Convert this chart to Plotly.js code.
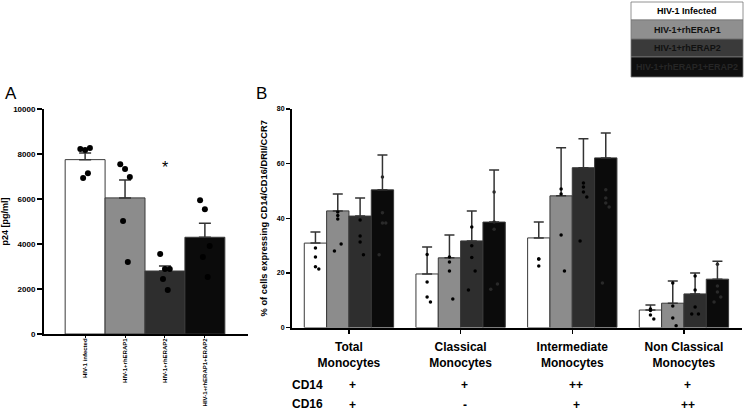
<!DOCTYPE html>
<html>
<head>
<meta charset="utf-8">
<script src="https://cdn.plot.ly/plotly-3.0.1.min.js"></script>
<style>
  html, body { margin: 0; padding: 0; background: #fff; }
  #chart { width: 744px; height: 412px; }
</style>
</head>
<body>
<div id="chart"></div>
<script>
// treatments (shared by both panels)
const treatments = ['HIV-1 Infected', 'HIV-1+rhERAP1', 'HIV-1+rhERAP2', 'HIV-1+rhERAP1+ERAP2'];
const treatmentTicks = ['HIV-1 infected', 'HIV-1+rhERAP1', 'HIV-1+rhERAP2', 'HIV-1+rhERAP1+ERAP2'];

// panel A : p24 [pg/ml]
const p24Mean = [7750, 6050, 2800, 4300];
const p24Sem = [290, 800, 220, 620];
const p24Points = [
    [8220, 8180, 8270, 6930, 7150],
    [7550, 7330, 6980, 5020, 3200],
    [3560, 2890, 2890, 2440, 1960],
    [5950, 5550, 3910, 3420, 2530]
];

// panel B : % of cells expressing CD14/CD16/DRII/CCR7
const subsets = ['Total<br>Monocytes', 'Classical<br>Monocytes', 'Intermediate<br>Monocytes', 'Non Classical<br>Monocytes'];
const cd14 = ['+', '+', '++', '+'];
const cd16 = ['+', '-', '+', '++'];
// one array per treatment, one value per subset
const pctMean = [
    [30.9, 19.6, 32.8, 6.4],
    [42.7, 25.5, 48.2, 8.9],
    [40.8, 31.7, 58.5, 12.3],
    [50.4, 38.6, 62.1, 17.7]
];
const pctErr = [
    [4.1, 9.9, 5.8, 1.8],
    [6.2, 8.4, 17.6, 8.1],
    [6.6, 11.0, 10.6, 7.7],
    [12.8, 19.1, 9.1, 6.6]
];
const pctPoints = [
    [[29.1, 25.8, 22.2, 21.4], [26.7, 16.7, 11.2, 9.3], [25.1, 25.1, 22.5], [6.8, 6.2, 4.6, 3.1]],
    [[42.3, 41.0, 39.7, 30.6, 28.0], [25.8, 24.0, 20.7, 10.4], [50.7, 48.9, 33.9, 20.7], [16.3, 7.9, 3.5, 0.6]],
    [[39.4, 33.5, 31.3, 26.6], [36.8, 29.9, 25.6, 20.7, 13.7], [52.9, 51.4, 49.6, 47.8, 31.7], [18.9, 13.7, 7.5, 4.9, 4.9]],
    [[55.1, 42.0, 38.3, 38.3, 26.6], [49.6, 38.6, 36.0, 15.9, 14.0], [50.4, 47.4, 45.6, 44.1, 16.3], [23.2, 15.2, 13.0, 11.2, 9.3]]
];

const barColors = ['#ffffff', '#8c8c8c', '#2e2e2e', '#0b0b0b'];
const boxColors = ['#ffffff', '#8f8f8f', '#3a3a3a', '#0e0e0e'];
const boxText = ['#000000', '#111111', '#111111', '#262626'];
const FONT = 'Liberation Sans, Arial, sans-serif';
const jitter = [-0.12, 0, 0.12, -0.05, 0.07];
const jitterB = [0, 0, 0, 0.03, -0.03];
const bw = 0.2;   // bar width in panel B (group units)

let data = [];

// ---- panel A bars + dots
data.push({
    type: 'bar', x: [0, 1, 2, 3], y: p24Mean, width: 1,
    xaxis: 'x', yaxis: 'y',
    marker: { color: barColors, line: { color: '#3a3a3a', width: 1 } },
    error_y: { type: 'data', symmetric: false, array: p24Sem, arrayminus: [0, 0, 0, 0],
        color: '#333', thickness: 1.5, width: 6 },
    hoverinfo: 'skip', showlegend: false
});
let ax = [], ay = [];
p24Points.forEach((pts, i) => pts.forEach((v, j) => { ax.push(i + jitter[j]); ay.push(v); }));
data.push({
    type: 'scatter', mode: 'markers', x: ax, y: ay, xaxis: 'x', yaxis: 'y',
    marker: { color: '#000', size: 6 }, hoverinfo: 'skip', showlegend: false
});

// ---- panel B bars + dots
treatments.forEach((name, k) => {
    const xs = subsets.map((s, g) => g + (k - 1.5) * bw);
    data.push({
        type: 'bar', name: name, x: xs, y: pctMean[k], width: bw,
        xaxis: 'x2', yaxis: 'y2',
        marker: { color: barColors[k], line: { color: '#3a3a3a', width: 1 } },
        error_y: { type: 'data', symmetric: false, array: pctErr[k], arrayminus: [0, 0, 0, 0],
            color: '#333', thickness: 1.5, width: 5 },
        hoverinfo: 'skip', showlegend: false
    });
    let bx = [], by = [];
    pctPoints[k].forEach((pts, g) => pts.forEach((v, j) => {
        bx.push(g + (k - 1.5) * bw + jitterB[j]); by.push(v);
    }));
    data.push({
        type: 'scatter', mode: 'markers', x: bx, y: by, xaxis: 'x2', yaxis: 'y2',
        marker: { color: k === 3 ? '#2a2a2a' : '#000', size: 3.5 },
        hoverinfo: 'skip', showlegend: false
    });
});

// ---- annotations and legend boxes
const note = (o) => Object.assign({ showarrow: false, xanchor: 'center', yanchor: 'middle' }, o);
let annotations = [
    note({ text: 'A', xref: 'paper', yref: 'paper', x: 3 / 744, y: 1 - 93 / 412, xanchor: 'left',
        font: { family: FONT, size: 17, color: '#000' } }),
    note({ text: 'B', xref: 'paper', yref: 'paper', x: 254 / 744, y: 1 - 93 / 412, xanchor: 'left',
        font: { family: FONT, size: 17, color: '#000' } }),
    note({ text: '*', xref: 'x', yref: 'y', x: 2, y: 7400,
        font: { family: FONT, size: 16, color: '#000' } }),
    note({ text: '*', xref: 'x2', yref: 'y2', x: 2 + 1.5 * bw, y: 80.5,
        font: { family: FONT, size: 16, color: '#000' } }),
    note({ text: '<b>CD14</b>', xref: 'paper', yref: 'paper', x: 307 / 744, y: 1 - 385 / 412,
        font: { family: FONT, size: 12, color: '#000' } }),
    note({ text: '<b>CD16</b>', xref: 'paper', yref: 'paper', x: 307 / 744, y: 1 - 404 / 412,
        font: { family: FONT, size: 12, color: '#000' } })
];
subsets.forEach((s, g) => {
    annotations.push(note({ text: '<b>' + cd14[g] + '</b>', xref: 'x2', yref: 'paper', x: g, xshift: 4,
        y: 1 - 385 / 412, font: { family: FONT, size: 12, color: '#000' } }));
    annotations.push(note({ text: '<b>' + cd16[g] + '</b>', xref: 'x2', yref: 'paper', x: g, xshift: 4,
        y: 1 - 405 / 412, font: { family: FONT, size: 12, color: '#000' } }));
});

let shapes = [];
const boxEdges = [2, 20, 39, 57, 77];
treatments.forEach((name, k) => {
    shapes.push({ type: 'rect', xref: 'paper', yref: 'paper',
        x0: 631 / 744, x1: 743 / 744, y0: 1 - boxEdges[k + 1] / 412, y1: 1 - boxEdges[k] / 412,
        fillcolor: boxColors[k], line: { color: '#777', width: 0.8 } });
    annotations.push(note({ text: '<b>' + name + '</b>', xref: 'paper', yref: 'paper',
        x: 687 / 744, y: 1 - (boxEdges[k] + boxEdges[k + 1]) / 2 / 412,
        font: { family: FONT, size: 9, color: boxText[k] } }));
});

const layout = {
    width: 744, height: 412,
    margin: { l: 0, r: 0, t: 0, b: 0 },
    paper_bgcolor: '#fff', plot_bgcolor: 'rgba(0,0,0,0)',
    showlegend: false, bargap: 0,
    font: { family: FONT, color: '#000' },
    xaxis: {
        domain: [44 / 744, 248 / 744], range: [-1.03, 4.08], anchor: 'y',
        tickvals: [0, 1, 2, 3], ticktext: treatmentTicks, tickangle: -90,
        tickfont: { family: FONT, size: 6, weight: 'bold' },
        ticks: 'outside', ticklen: 2, tickwidth: 1, tickcolor: '#000', ticklabelstandoff: -2,
        showline: true, linecolor: '#000', linewidth: 2, showgrid: false, zeroline: false
    },
    yaxis: {
        domain: [78 / 412, 303 / 412], range: [0, 10000], anchor: 'x',
        tickvals: [0, 2000, 4000, 6000, 8000, 10000], tickformat: 'd',
        tickfont: { family: FONT, size: 8, weight: 'bold' },
        ticks: 'outside', ticklen: 5, tickwidth: 1.5, tickcolor: '#000',
        showline: true, linecolor: '#000', linewidth: 2, showgrid: false, zeroline: false,
        title: { text: '<b>p24 [pg/ml]</b>', font: { family: FONT, size: 9 }, standoff: 4 }
    },
    xaxis2: {
        domain: [292 / 744, 742 / 744], range: [-0.51, 3.52], anchor: 'y2',
        tickvals: [0, 1, 2, 3], ticktext: subsets.map(s => '<b>' + s + '</b>'),
        tickfont: { family: FONT, size: 12 },
        ticks: 'outside', ticklen: 4, tickwidth: 1.5, tickcolor: '#000', ticklabelstandoff: 3,
        showline: true, linecolor: '#000', linewidth: 2, showgrid: false, zeroline: false
    },
    yaxis2: {
        domain: [84.5 / 412, 303 / 412], range: [0, 80], anchor: 'x2',
        tickvals: [0, 20, 40, 60, 80],
        tickfont: { family: FONT, size: 7, weight: 'bold' },
        ticks: 'outside', ticklen: 4, tickwidth: 1.5, tickcolor: '#000',
        showline: true, linecolor: '#000', linewidth: 2, showgrid: false, zeroline: false,
        title: { text: '<b>% of cells expressing CD14/CD16/DRII/CCR7</b>', font: { family: FONT, size: 9.3 }, standoff: 8 }
    },
    annotations: annotations,
    shapes: shapes
};

Plotly.newPlot('chart', data, layout, { staticPlot: true, displayModeBar: false });
</script>
</body>
</html>
